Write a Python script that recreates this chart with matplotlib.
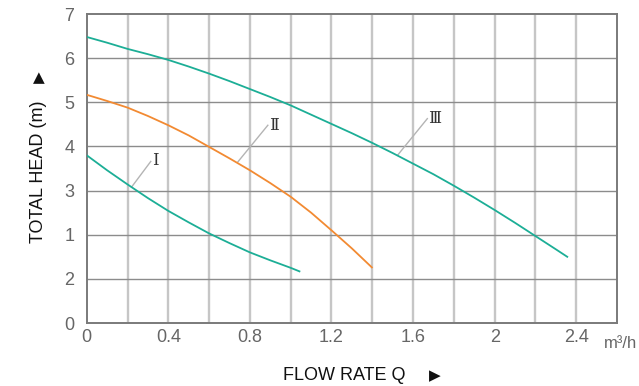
import matplotlib
matplotlib.use("Agg")
import matplotlib.pyplot as plt

# Data
q_I = [0.0, 0.1, 0.2, 0.3, 0.4, 0.5, 0.6, 0.7, 0.8, 0.9, 1.0, 1.043]
h_I = [3.80, 3.46, 3.14, 2.83, 2.54, 2.28, 2.03, 1.81, 1.60, 1.42, 1.25, 1.17]

q_II = [0.0, 0.1, 0.2, 0.3, 0.4, 0.5, 0.6, 0.7, 0.8, 0.9, 1.0, 1.1, 1.2, 1.3, 1.398]
h_II = [5.17, 5.03, 4.88, 4.69, 4.48, 4.25, 3.99, 3.73, 3.46, 3.17, 2.86, 2.50, 2.10, 1.69, 1.26]

q_III = [0.0, 0.1, 0.2, 0.3, 0.4, 0.5, 0.6, 0.7, 0.8, 0.9, 1.0, 1.1, 1.2,
         1.3, 1.4, 1.5, 1.6, 1.7, 1.8, 1.9, 2.0, 2.1, 2.2, 2.3, 2.356]
h_III = [6.48, 6.35, 6.21, 6.09, 5.96, 5.81, 5.65, 5.48, 5.30, 5.12, 4.93, 4.72, 4.51,
         4.30, 4.08, 3.85, 3.61, 3.37, 3.11, 2.84, 2.56, 2.27, 1.97, 1.67, 1.50]

x_ticks = [0, 0.4, 0.8, 1.2, 1.6, 2, 2.4]
x_ticklabels = ["0", "0.4", "0.8", "1.2", "1.6", "2", "2.4"]
y_ticks = [0, 1, 2, 3, 4, 5, 6, 7]
y_ticklabels = ["0", "2", "1", "3", "4", "5", "6", "7"]

curve_names = ["\u2160", "\u2161", "\u2162"]

teal = "#1cae96"
orange = "#f28a32"

fig = plt.figure(figsize=(6.39, 3.86), dpi=100)
ax = fig.add_axes([0.1357, 0.1632, 0.8299, 0.8005])
ax.set_xlim(0, 2.6)
ax.set_ylim(0, 7)

# grid
for i in range(1, 13):
    ax.axvline(i * 0.2, color="#c6c6c6", lw=1.7, zorder=1)
for j in range(1, 7):
    ax.axhline(j, color="#8c8c8c", lw=1.0, zorder=1)

for s in ax.spines.values():
    s.set_color("#7a7a7a")
    s.set_linewidth(1.4)

ax.plot(q_I, h_I, color=teal, lw=1.3, zorder=3, solid_joinstyle="round")
ax.plot(q_II, h_II, color=orange, lw=1.3, zorder=3, solid_joinstyle="round")
ax.plot(q_III, h_III, color=teal, lw=1.3, zorder=3, solid_joinstyle="round")

# labels with leaders
leaders = [((0.220, 3.08), (0.314, 3.66), (0.336, 3.68)),
           ((0.741, 3.65), (0.888, 4.48), (0.920, 4.47)),
           ((1.524, 3.80), (1.670, 4.63), (1.705, 4.63))]
for (p0, p1, pt), txt in zip(leaders, curve_names):
    ax.plot([p0[0], p1[0]], [p0[1], p1[1]], color="#b4b4b4", lw=1.0, zorder=2)
    ax.text(pt[0], pt[1], txt, family=["DejaVu Serif", "DejaVu Sans", "Noto Sans CJK JP"],
            fontsize=12, color="#333333", ha="center", va="center", zorder=4)

ax.set_xticks(x_ticks)
ax.set_xticklabels(x_ticklabels)
ax.set_yticks(y_ticks)
ax.set_yticklabels(y_ticklabels)
ax.tick_params(length=0, labelsize=13, labelcolor="#666666")
for lab in ax.get_xticklabels() + ax.get_yticklabels():
    lab.set_family(["Liberation Sans", "DejaVu Sans"])
ax.tick_params(axis="y", pad=9)
ax.tick_params(axis="x", pad=4)

ax.text(2.535, -0.47, "m\u00b3/h", fontsize=12, color="#666666",
        family=["Liberation Sans", "DejaVu Sans"],
        ha="left", va="center")

fig.text(0.5385, 0.027, "FLOW RATE Q", fontsize=13, color="#111111",
         family=["Liberation Sans", "DejaVu Sans"], ha="center", va="center")
fig.text(0.680, 0.027, "\u25b6", fontsize=11, color="#111111",
         family=["DejaVu Sans"], ha="center", va="center")
fig.text(0.060, 0.555, "TOTAL HEAD (m)", fontsize=13, color="#111111",
         family=["Liberation Sans", "DejaVu Sans"], ha="center", va="center",
         rotation=90)
fig.text(0.060, 0.800, "\u25b2", fontsize=11, color="#111111",
         family=["DejaVu Sans"], ha="center", va="center")

fig.savefig("out.png", dpi=100)
